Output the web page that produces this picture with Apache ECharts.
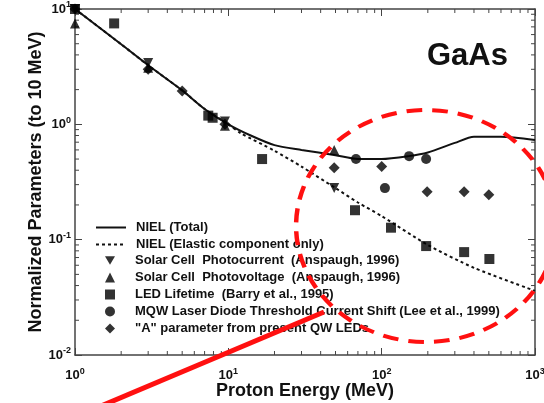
<!DOCTYPE html>
<html>
<head>
<meta charset="utf-8">
<script src="https://cdn.jsdelivr.net/npm/echarts@6/dist/echarts.min.js"></script>
<style>
html,body{margin:0;padding:0;background:#fff;}
#c{width:544px;height:403px;}
</style>
</head>
<body>
<div id="c"></div>
<script>
// ---- data ----
const nielTotal = [[1,10],[2,4.95],[3,3.25],[5,1.97],[7,1.36],[10,1.0],[14,0.8],[20,0.66],[30,0.6],[50,0.54],[70,0.5],[100,0.5],[150,0.53],[200,0.57],[300,0.69],[400,0.78],[600,0.78],[1000,0.73]];
const nielElastic = [[1,10],[2,4.95],[3,3.25],[5,1.97],[7,1.36],[10,1.0],[12,0.84],[20,0.59],[30,0.43],[50,0.28],[70,0.21],[100,0.16],[200,0.09],[400,0.057],[1000,0.036]];
const solarCurrent = [[1,10],[3,3.4],[9.5,1.06],[49,0.28]];
const solarVoltage = [[1,7.5],[3,3.1],[9.5,0.97],[49,0.6]];
const ledLifetime = [[1,10],[1.8,7.5],[7.4,1.19],[7.9,1.14],[16.6,0.5],[67,0.18],[115,0.127],[195,0.088],[345,0.078],[504,0.068]];
const mqwShift = [[68,0.5],[105,0.28],[151,0.53],[195,0.5]];
const aParam = [[1,10],[3,3.0],[5,1.95],[9.5,1.0],[49,0.42],[100,0.43],[198,0.26],[345,0.26],[500,0.245]];
const lineNames = ['NIEL (Total)','NIEL (Elastic component only)'];
const pointNames = ['Solar Cell  Photocurrent  (Anspaugh, 1996)','Solar Cell  Photovoltage  (Anspaugh, 1996)','LED Lifetime  (Barry et al., 1995)','MQW Laser Diode Threshold Current Shift (Lee et al., 1999)','"A" parameter from present QW LEDs'];
const xName = 'Proton Energy (MeV)';
const yName = 'Normalized Parameters (to 10 MeV)';
const panelLabel = 'GaAs';
const xMinorTicks = [2,3,4,5,6,7,8,9,20,30,40,50,60,70,80,90,200,300,400,500,600,700,800,900];
const yMinorTicks = [0.02,0.03,0.04,0.05,0.06,0.07,0.08,0.09,0.2,0.3,0.4,0.5,0.6,0.7,0.8,0.9,2,3,4,5,6,7,8,9];

const minorData = xMinorTicks.map(v => [v, 1, 0]).concat(yMinorTicks.map(v => [1, v, 1]));

function powLabel(v){
  const e = Math.round(Math.log10(v));
  return '{b|10}{s|' + e + '}';
}
const richLab = {
  b:{fontSize:13,fontWeight:'bold',color:'#111',fontFamily:'Arial'},
  s:{fontSize:9,fontWeight:'bold',color:'#111',fontFamily:'Arial',padding:[0,0,8,0]}
};
const axisLineStyle = {color:'#444',width:1.5};
const legendText = {fontSize:13,fontWeight:'bold',color:'#111',fontFamily:'Arial'};
const triDown = 'path://M0,0L2,0L1,1.732Z';

const chart = echarts.init(document.getElementById('c'));
const blk = '#000';
chart.setOption({
  animation:false,
  backgroundColor:'#fff',
  title:{text:panelLabel,left:422,top:36,textStyle:{fontSize:31,fontWeight:'bold',color:'#111',fontFamily:'Arial'}},
  grid:{left:75,right:9,top:9,bottom:48,containLabel:false,outerBoundsMode:'none'},
  legend:[{
    orient:'vertical',left:90,top:216,itemWidth:30,itemHeight:11,itemGap:4,
    data:lineNames,
    textStyle:Object.assign({padding:[0,0,0,5]},legendText),
    selectedMode:false
  },{
    orient:'vertical',left:100,top:249,itemWidth:10,itemHeight:10,itemGap:4,
    data:[
      {name:pointNames[0],icon:triDown},
      {name:pointNames[1],icon:'triangle'},
      {name:pointNames[2],icon:'rect'},
      {name:pointNames[3],icon:'circle'},
      {name:pointNames[4],icon:'diamond'}
    ],
    textStyle:Object.assign({padding:[0,0,0,15]},legendText),
    selectedMode:false
  }],
  xAxis:[{
    type:'log',min:1,max:1000,logBase:10,position:'bottom',
    name:xName,nameLocation:'middle',nameGap:27,nameMoveOverlap:false,
    nameTextStyle:{fontSize:18,fontWeight:'bold',color:'#111',fontFamily:'Arial'},
    axisLine:{lineStyle:axisLineStyle},
    axisTick:{inside:true,length:7,lineStyle:{color:'#444',width:1}},
    axisLabel:{formatter:powLabel,rich:richLab,margin:12},
    splitLine:{show:false}
  },{
    type:'log',min:1,max:1000,logBase:10,position:'top',
    axisLine:{lineStyle:axisLineStyle},
    axisTick:{inside:true,length:7,lineStyle:{color:'#444',width:1}},
    axisLabel:{show:false},splitLine:{show:false}
  }],
  yAxis:[{
    type:'log',min:0.01,max:10,logBase:10,position:'left',
    name:yName,nameLocation:'middle',nameGap:30,nameMoveOverlap:false,
    nameTextStyle:{fontSize:18,fontWeight:'bold',color:'#111',fontFamily:'Arial'},
    axisLine:{lineStyle:axisLineStyle},
    axisTick:{inside:true,length:7,lineStyle:{color:'#444',width:1}},
    axisLabel:{formatter:powLabel,rich:richLab,margin:4},
    splitLine:{show:false}
  },{
    type:'log',min:0.01,max:10,logBase:10,position:'right',
    axisLine:{lineStyle:axisLineStyle},
    axisTick:{inside:true,length:7,lineStyle:{color:'#444',width:1}},
    axisLabel:{show:false},splitLine:{show:false}
  }],
  series:[
    {type:'custom',silent:true,data:minorData,clip:false,
      renderItem:function(params,api){
        const r = params.coordSys;
        const kind = api.value(2);
        const st = {stroke:'#444',lineWidth:1};
        if(kind === 0){
          const px = api.coord([api.value(0),1])[0];
          return {type:'group',children:[
            {type:'line',shape:{x1:px,y1:r.y+r.height,x2:px,y2:r.y+r.height-4},style:st},
            {type:'line',shape:{x1:px,y1:r.y,x2:px,y2:r.y+4},style:st}
          ]};
        } else {
          const py = api.coord([1,api.value(1)])[1];
          return {type:'group',children:[
            {type:'line',shape:{x1:r.x,y1:py,x2:r.x+4,y2:py},style:st},
            {type:'line',shape:{x1:r.x+r.width,y1:py,x2:r.x+r.width-4,y2:py},style:st}
          ]};
        }
      }
    },
    {name:lineNames[0],type:'line',data:nielTotal,symbol:'none',smooth:0.25,
      lineStyle:{color:'#111',width:2,type:'solid'},itemStyle:{color:'rgba(0,0,0,0)',borderWidth:0},z:3},
    {name:lineNames[1],type:'line',data:nielElastic,symbol:'none',smooth:0.25,
      lineStyle:{color:'#111',width:2,type:[3,3]},itemStyle:{color:'rgba(0,0,0,0)',borderWidth:0},z:2},
    {name:pointNames[0],type:'scatter',data:solarCurrent,symbol:'triangle',symbolRotate:180,symbolSize:10,clip:false,itemStyle:{color:blk},z:5},
    {name:pointNames[1],type:'scatter',data:solarVoltage,symbol:'triangle',symbolSize:10,clip:false,itemStyle:{color:blk},z:5},
    {name:pointNames[2],type:'scatter',data:ledLifetime,symbol:'rect',symbolSize:10,clip:false,itemStyle:{color:blk},z:5},
    {name:pointNames[3],type:'scatter',data:mqwShift,symbol:'circle',symbolSize:10,clip:false,itemStyle:{color:blk},z:5},
    {name:pointNames[4],type:'scatter',data:aParam,symbol:'diamond',symbolSize:11,clip:false,itemStyle:{color:blk},z:5}
  ],
  graphic:[
    {type:'circle',x:426,y:226,scaleX:1.12,scaleY:1,shape:{cx:0,cy:0,r:116},z:100,
      style:{fill:'none',stroke:'#ff1010',lineWidth:4,lineDash:[14,9]}},
    {type:'line',shape:{x1:101,y1:406,x2:324,y2:312},z:100,
      style:{stroke:'#ff1010',lineWidth:5}}
  ]
});
</script>
</body>
</html>
